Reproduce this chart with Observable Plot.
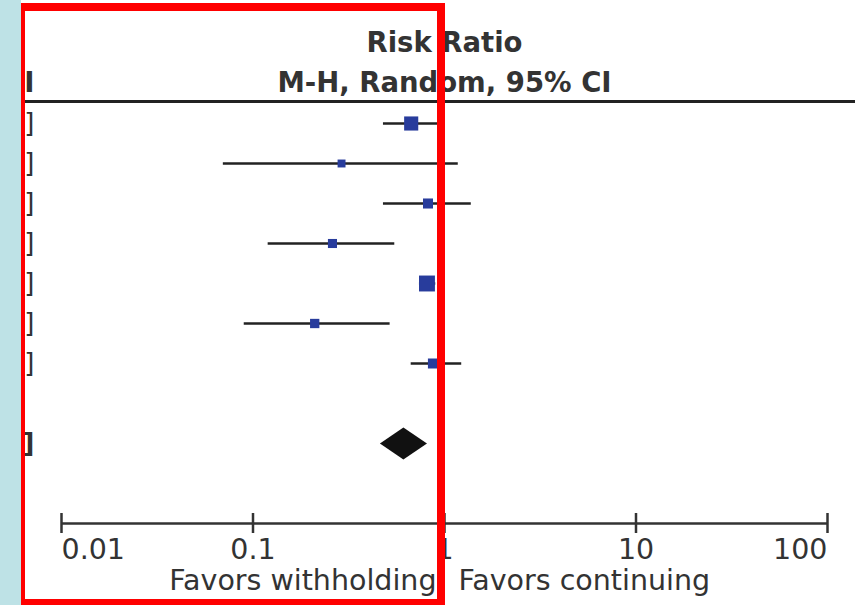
<!DOCTYPE html>
<html>
<head>
<meta charset="utf-8">
<script src="https://cdn.jsdelivr.net/npm/d3@7"></script>
<script src="https://cdn.jsdelivr.net/npm/@observablehq/plot@0.6"></script>
<style>
html, body { margin: 0; padding: 0; background: #fff; width: 859px; height: 605px; overflow: hidden; }
#wrap { position: relative; width: 859px; height: 605px; }
#wrap svg { display: block; }
#side { position: absolute; left: 0; top: 0; width: 21px; height: 605px; background: #bee2e6; }
#box { position: absolute; left: 21px; top: 3px; width: 424px; height: 602px; box-sizing: border-box;
       border-style: solid; border-color: #ff0000; border-width: 8px 8px 6px 4px; }
</style>
</head>
<body>
<div id="wrap"><div id="chart"></div><div id="side"></div><div id="box"></div></div>
<script>
// ---- data ----
const studies = ["Study 1", "Study 2", "Study 3", "Study 4", "Study 5", "Study 6", "Study 7"];
const estimate = [0.67, 0.29, 0.82, 0.26, 0.81, 0.21, 0.87];
const lower    = [0.48, 0.07, 0.48, 0.12, 0.74, 0.09, 0.67];
const upper    = [0.94, 1.18, 1.38, 0.55, 0.90, 0.52, 1.23];
const weight   = [22.5, 7.1, 11.4, 9.3, 28.6, 9.8, 11.3];
const pooledEstimate = 0.61;
const pooledLower = 0.46;
const pooledUpper = 0.81;
const xTicks = [0.01, 0.1, 1, 10, 100];
const xTickLabels = ["0.01", "0.1", "1", "10", "100"];
const title = "Risk Ratio";
const subtitle = "M-H, Random, 95% CI";
const favorsLeft = "Favors withholding";
const favorsRight = "Favors continuing";

// ---- build ----
const f = d3.format(".2f");
const rows = estimate.map((e, i) => ({
  study: studies[i], row: i, est: e, lo: lower[i], hi: upper[i], w: weight[i],
  label: `${f(e)} [${f(lower[i])}, ${f(upper[i])}]`
}));
const pooledRow = 8;
const pooledLabel = `${f(pooledEstimate)} [${f(pooledLower)}, ${f(pooledUpper)}]`;
const dh = 0.4;
const diamond = [
  {x: pooledLower, y: pooledRow},
  {x: pooledEstimate, y: pooledRow - dh},
  {x: pooledUpper, y: pooledRow},
  {x: pooledEstimate, y: pooledRow + dh}
];
const tickLabel = d => xTickLabels[xTicks.indexOf(d)];
const FS = 26;      // row labels
const FB = 27.5;    // bold headers
const FA = 28.5;    // axis text
const ink = "#333";

const chart = Plot.plot({
  width: 859, height: 605,
  marginLeft: 22, marginRight: 4, marginTop: 43, marginBottom: 82,
  style: {fontFamily: "'DejaVu Sans', sans-serif", color: ink, background: "#fff"},
  x: {type: "log", domain: [xTicks[0], xTicks[xTicks.length - 1]], range: [61, 827], axis: null},
  y: {domain: [-2, 10], reverse: true, axis: null},
  r: {type: "sqrt", domain: [0, 30], range: [0, 9.2]},
  marks: [
    Plot.ruleX([1], {y1: -0.55, y2: 10, stroke: "#333", strokeWidth: 1}),
    Plot.ruleY([-0.55], {stroke: "#222", strokeWidth: 3}),
    Plot.text([title], {x: 1, y: -2, text: d => d, fontSize: FB, fontWeight: "bold", fill: ink}),
    Plot.text([subtitle], {x: 1, y: -1, text: d => d, fontSize: FB, fontWeight: "bold", fill: ink}),
    Plot.text([subtitle], {frameAnchor: "left", y: -1, dx: 12, text: d => d, textAnchor: "end", fontSize: FB, fontWeight: "bold", fill: ink}),
    Plot.ruleY(rows, {y: "row", x1: "lo", x2: "hi", stroke: "#222", strokeWidth: 2.5}),
    Plot.dot(rows, {x: "est", y: "row", r: "w", symbol: "square", fill: "#283c9c"}),
    Plot.text(rows, {frameAnchor: "left", y: "row", dx: 12, text: "label", textAnchor: "end", fontSize: FS, fill: ink}),
    Plot.line(diamond, {x: "x", y: "y", fill: "#111", stroke: "none", curve: "linear-closed"}),
    Plot.text([pooledLabel], {frameAnchor: "left", y: pooledRow, dx: 12, text: d => d, textAnchor: "end", fontSize: FS, fontWeight: "bold", fill: ink}),
    Plot.ruleY([10], {x1: xTicks[0], x2: xTicks[xTicks.length - 1], stroke: "#333", strokeWidth: 2.5}),
    Plot.ruleX(xTicks, {x: d => d, y1: 9.75, y2: 10.25, stroke: "#333", strokeWidth: 2.5}),
    Plot.axisX(xTicks.slice(0, 1), {anchor: "bottom", tickSize: 0, tickPadding: 15, textAnchor: "start", tickFormat: tickLabel, fontSize: FA, fill: ink, label: null}),
    Plot.axisX(xTicks.slice(1, -1), {anchor: "bottom", tickSize: 0, tickPadding: 15, tickFormat: tickLabel, fontSize: FA, fill: ink, label: null}),
    Plot.axisX(xTicks.slice(-1), {anchor: "bottom", tickSize: 0, tickPadding: 15, textAnchor: "end", tickFormat: tickLabel, fontSize: FA, fill: ink, label: null}),
    Plot.text([favorsLeft], {x: 1, frameAnchor: "bottom", dy: 66, dx: -8, text: d => d, textAnchor: "end", fontSize: FA, fill: ink}),
    Plot.text([favorsRight], {x: 1, frameAnchor: "bottom", dy: 66, dx: 14, text: d => d, textAnchor: "start", fontSize: FA, fill: ink})
  ]
});
document.getElementById("chart").appendChild(chart);
</script>
</body>
</html>
